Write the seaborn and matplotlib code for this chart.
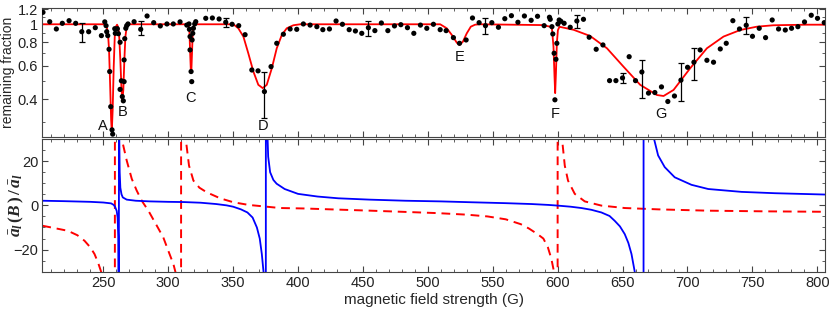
import numpy as np
import seaborn as sns
import matplotlib.pyplot as plt
from matplotlib.ticker import FixedLocator, FixedFormatter, MultipleLocator

# ---- top panel: measured remaining fraction ----
pts_B = [203.5, 208.7, 213.8, 218.4, 223.6, 228.7, 233.4, 238.7, 243.8, 248.5,
         251.1, 252.1, 252.6, 253.4, 254.4, 254.9, 255.7, 256.7, 257.2, 258.8,
         259.2, 260.8, 261.6, 262.9, 262.9, 263.9, 264.6, 265.4, 266.0, 266.0,
         266.5, 267.3, 268.0, 269.0, 273.7, 278.8, 283.7, 288.8, 293.9, 299.0,
         303.9, 309.1, 314.3, 316.0, 316.3, 316.8, 316.8, 317.6, 318.1, 318.4,
         318.9, 319.4, 320.4, 321.2, 328.9, 334.0, 339.2, 344.3, 349.2, 354.3,
         359.2, 364.4, 369.2, 374.1, 379.2, 383.6, 388.7, 393.9, 399.0, 404.1,
         409.3, 414.5, 419.1, 424.2, 429.3, 434.2, 439.4, 444.2, 449.1, 454.2,
         459.2, 464.2, 469.2, 474.3, 479.2, 484.3, 489.2, 494.3, 499.2, 504.3,
         509.5, 514.1, 519.7, 524.4, 529.5, 534.4, 539.5, 544.4, 549.3, 554.4,
         559.3, 564.4, 569.4, 574.4, 579.6, 584.5, 589.6, 593.7, 594.3, 595.6,
         596.3, 597.3, 597.9, 598.7, 599.4, 600.2, 601.2, 602.5, 605.0, 609.7,
         614.8, 619.9, 624.3, 629.7, 634.9, 640.0, 644.9, 650.0, 655.1, 660.0,
         664.9, 670.0, 674.9, 680.0, 684.9, 690.0, 695.0, 700.1, 705.0, 709.8,
         715.0, 720.1, 725.3, 729.9, 735.0, 740.1, 745.3, 750.1, 755.3, 760.2,
         765.3, 770.2, 775.4, 780.2, 785.1, 790.2, 795.4, 800.2, 805.4]
pts_val = [1.158, 1.032, 0.944, 1.012, 1.045, 1.012, 0.913, 0.913, 0.959, 0.870,
           1.030, 0.983, 0.913, 0.870, 0.736, 0.560, 0.364, 0.274, 0.260, 0.947,
           0.895, 0.947, 0.891, 0.802, 0.450, 0.500, 0.412, 0.391, 0.495, 0.646,
           0.838, 0.952, 0.983, 1.004, 1.032, 0.940, 1.107, 1.020, 0.980, 1.004,
           1.004, 1.030, 0.990, 1.004, 0.940, 0.860, 0.730, 0.560, 0.495, 0.825,
           0.895, 0.952, 1.004, 1.032, 1.076, 1.080, 1.067, 1.025, 1.000, 0.983,
           0.880, 0.571, 0.565, 0.438, 0.595, 0.792, 0.885, 0.944, 0.940, 1.004,
           0.990, 0.971, 0.936, 0.944, 1.041, 1.000, 0.936, 0.921, 0.895, 0.959,
           0.925, 1.016, 0.925, 0.980, 0.995, 0.959, 0.895, 0.990, 0.952, 1.000,
           0.936, 0.925, 0.849, 0.792, 0.825, 1.080, 1.020, 0.983, 1.020, 0.964,
           1.071, 1.111, 1.025, 1.107, 1.050, 1.103, 0.983, 1.090, 1.063, 0.971,
           0.888, 0.701, 0.396, 0.651, 0.792, 1.004, 1.054, 1.037, 1.012, 0.964,
           1.041, 1.063, 0.853, 0.736, 0.776, 0.501, 0.501, 0.518, 0.672, 0.501,
           0.557, 0.430, 0.433, 0.464, 0.388, 0.415, 0.504, 0.590, 0.628, 0.730,
           0.643, 0.628, 0.739, 0.792, 1.045, 0.944, 0.988, 0.863, 0.952, 0.849,
           1.054, 0.944, 0.932, 0.952, 0.971, 1.029, 1.117, 1.076, 1.020]

# error bars (centre, low, high)
err_B = [233.4, 278.8, 344.3, 374.1, 454.2, 544.4, 614.8, 650.0, 664.9, 695.0, 705.0, 745.3]
err_val = [0.913, 0.940, 1.025, 0.438, 0.959, 0.983, 1.041, 0.518, 0.557, 0.504, 0.628, 0.988]
err_lo = [0.808, 0.880, 0.971, 0.316, 0.866, 0.888, 0.952, 0.486, 0.404, 0.391, 0.505, 0.885]
err_hi = [1.012, 1.045, 1.076, 0.560, 1.045, 1.076, 1.120, 0.549, 0.646, 0.620, 0.751, 1.089]

# fitted curve
fit_B = [203, 250, 252.3, 253.6, 254.4, 255.2, 256.0, 256.5, 257.2, 258.0, 258.8, 259.6,
         260.6, 261.3, 262.1, 263.1, 263.9, 264.6, 265.4, 266.2, 267.0, 268.0, 269.6,
         315.5, 316.3, 316.8, 317.4, 317.8, 318.4, 318.9, 319.9, 321.0,
         350.2, 354.0, 357.9, 361.7, 365.6, 369.4, 372.8, 375.9, 379.8, 383.6, 387.5,
         391.3, 396.4, 401.6, 509.5, 514.6, 518.5, 522.3, 524.4, 527.0, 530.0, 533.1,
         536.4, 540.0, 589.0, 594.3, 595.6, 596.8, 597.6, 598.1, 598.7, 599.4, 600.2,
         601.4, 612.2, 625.1, 638.0, 650.7, 663.6, 676.5, 681.6, 689.3, 702.1, 715.0,
         727.8, 740.7, 753.5, 766.3, 792.0, 806.0]
fit_val = [1.0, 1.0, 0.99, 0.895, 0.73, 0.486, 0.31, 0.268, 0.35, 0.595, 0.86, 0.97,
           0.995, 0.97, 0.895, 0.646, 0.466, 0.388, 0.447, 0.646, 0.86, 0.97, 1.0,
           1.0, 0.933, 0.73, 0.57, 0.56, 0.73, 0.92, 0.99, 1.0,
           1.0, 0.952, 0.86, 0.70, 0.56, 0.476, 0.457, 0.476, 0.583, 0.745, 0.877,
           0.952, 0.988, 1.0, 1.0, 0.952, 0.877, 0.798, 0.776, 0.808, 0.895, 0.971,
           0.995, 1.0, 0.99, 0.97, 0.952, 0.76, 0.526, 0.43, 0.55, 0.792, 0.93,
           0.97, 0.935, 0.866, 0.745, 0.595, 0.476, 0.42, 0.415, 0.447, 0.583, 0.745,
           0.86, 0.932, 0.971, 0.988, 0.995, 0.995]

res_labels = ["A", "B", "C", "D", "E", "F", "G"]
res_B = [249.5, 265.0, 316.8, 373.3, 524.4, 598.1, 679.6]
res_val = [0.288, 0.339, 0.404, 0.288, 0.667, 0.332, 0.332]

# ---- bottom panel: scattering length ratio ----
blue_B = [203, 220, 240, 250, 256, 258, 259, 260.3, 261.0, 261.5, 261.9,
          262.1, 262.3, 262.6, 263.1, 264.0, 265.0, 268.0, 275, 286, 300, 312,
          325, 337, 345, 350, 356, 361, 365, 368.3, 370.5, 372.1, 373.4, 374.5, 375.1,
          375.3, 376.0, 377.0, 378.5, 381.0, 383.5, 389.7, 400, 415, 431, 455, 482.6,
          510, 534, 560, 580, 593, 600, 610, 618.3, 626, 633.7, 640, 644, 648, 651.7,
          654.5, 656.9, 659.4, 662, 666.1,
          666.3, 672, 674.3, 677.4, 682.5, 690.2, 703.1, 716, 741.7, 767.4, 806]
blue_val = [2.1, 1.9, 1.6, 1.3, 0.9, 0.2, -0.6, -2.5, -5.5, -14, -60,
            60, 30, 15, 8, 5, 3.6, 2.6, 2.1, 1.8, 1.6, 1.5,
            1.2, 0.6, 0.0, -0.6, -1.8, -3.2, -5.5, -10, -15, -22, -30, -60, -300,
            300, 40, 22, 15, 11.5, 9.8, 7.4, 5.2, 4.0, 3.2, 2.6, 2.1,
            1.8, 1.4, 1.0, 0.6, 0.2, -0.1, -0.6, -1.2, -2.0, -3.2, -4.8, -7, -9.5, -13,
            -17, -22, -30, -60, -300,
            300, 60, 30, 22.6, 17.3, 12.7, 9.3, 7.4, 6.1, 5.5, 4.9]

red_B = [203, 210, 222.7, 230, 235.5, 240, 243.2, 246, 248.3, 252, 256, 258.8,
         259.0, 262, 264.2, 268, 271.9, 275.7, 279.6, 284.7, 291.2, 296.2, 300.1,
         304, 305.5, 307, 309.8,
         310.0, 312, 313.5, 316, 319.4, 324, 329.7, 340, 350.2, 362, 375.9, 386.2,
         404.7, 430, 456, 480, 507.4, 530, 546, 560, 571.6, 578, 584.5, 589, 592.5,
         595.1, 597.2, 598.5, 599.9,
         600.1, 602, 603.4, 605.5, 608, 613.2, 620.9, 633.7, 651.7, 677.4, 716, 760, 806]
red_val = [-9.2, -10, -11.5, -13.5, -16, -19, -22, -26, -30, -40, -70, -300,
           300, 60, 30, 20.3, 12, 6.7, 2.1, -2.4, -9.2, -14.5, -20.6,
           -26.6, -30, -40, -300,
           300, 50, 30, 18, 11.2, 8, 5.9, 3.2, 1.4, 0.2, -0.6, -1.2,
           -1.4, -1.9, -2.4, -2.9, -3.5, -4.2, -5, -6.3, -8.5, -10.5, -13, -15, -19,
           -24, -30, -50, -300,
           300, 60, 30, 18, 11.2, 5.2, 1.8, -0.1, -1.2, -1.8, -2.4, -2.7, -2.9]

sns.set_style("ticks")
plt.rcParams['font.family'] = ['Liberation Sans', 'DejaVu Sans']
plt.rcParams['mathtext.fontset'] = 'custom'
plt.rcParams['mathtext.it'] = 'Liberation Serif:italic:bold'
plt.rcParams['mathtext.rm'] = 'Liberation Serif:bold'

fig = plt.figure(figsize=(8.3, 3.1), dpi=100)
ax1 = fig.add_axes([0.051, 0.557, 0.943, 0.417])
ax2 = fig.add_axes([0.051, 0.1235, 0.943, 0.428])

frame = '#444444'
for ax in (ax1, ax2):
    for s in ax.spines.values():
        s.set_color(frame)
        s.set_linewidth(0.8)
    ax.tick_params(which='both', direction='in', top=True, right=True,
                   color=frame, labelsize=10.5, labelcolor='#222222', pad=3)
    ax.tick_params(which='major', length=4)
    ax.tick_params(which='minor', length=2)
    ax.xaxis.set_major_locator(MultipleLocator(50))
    ax.xaxis.set_minor_locator(MultipleLocator(10))

# top panel
sns.lineplot(x=fit_B, y=fit_val, sort=False, estimator=None, color='red',
             lw=1.3, ax=ax1, zorder=2)
ax1.errorbar(err_B, err_val,
             yerr=[np.array(err_val) - np.array(err_lo), np.array(err_hi) - np.array(err_val)],
             fmt='none', ecolor='black', elinewidth=0.9, capsize=2, capthick=0.9, zorder=3)
sns.scatterplot(x=pts_B, y=pts_val, color='black', s=14, edgecolor='none',
                ax=ax1, zorder=4)
for lab, b, v in zip(res_labels, res_B, res_val):
    ax1.text(b, v, lab, ha='center', va='center', fontsize=10.5, color='#111111')

ax1.set_yscale('log')
ax1.set_xlim(203, 806)
ax1.set_ylim(0.25, 1.22)
ax1.yaxis.set_major_locator(FixedLocator([0.4, 0.6, 0.8, 1.0, 1.2]))
ax1.yaxis.set_major_formatter(FixedFormatter(["0.4", "0.6", "0.8", "1", "1.2"]))
ax1.yaxis.set_minor_locator(FixedLocator([0.3, 0.5, 0.7, 0.9, 1.1]))
ax1.yaxis.set_minor_formatter(FixedFormatter([""] * 5))
ax1.tick_params(labelbottom=False)
ax1.set_xlabel("")
ax1.set_ylabel("remaining fraction", fontsize=10)
ax1.yaxis.set_label_coords(-0.035, 0.5)

# bottom panel
sns.lineplot(x=red_B, y=red_val, sort=False, estimator=None, color='red',
             lw=1.4, ax=ax2, linestyle=(0, (4.5, 3)))
sns.lineplot(x=blue_B, y=blue_val, sort=False, estimator=None, color='blue',
             lw=1.3, ax=ax2)
ax2.set_xlim(203, 806)
ax2.set_ylim(-30, 30)
ax2.yaxis.set_major_locator(MultipleLocator(20))
ax2.yaxis.set_minor_locator(MultipleLocator(5))
ax2.set_xlabel("magnetic field strength (G)", fontsize=11, labelpad=2)
ax2.set_ylabel(r"$\bar{a}_l\,(B\,)\,/\,\bar{a}_l$", fontsize=12.5)
ax2.yaxis.set_label_coords(-0.021, 0.5)

fig.savefig("out.png", dpi=100)
